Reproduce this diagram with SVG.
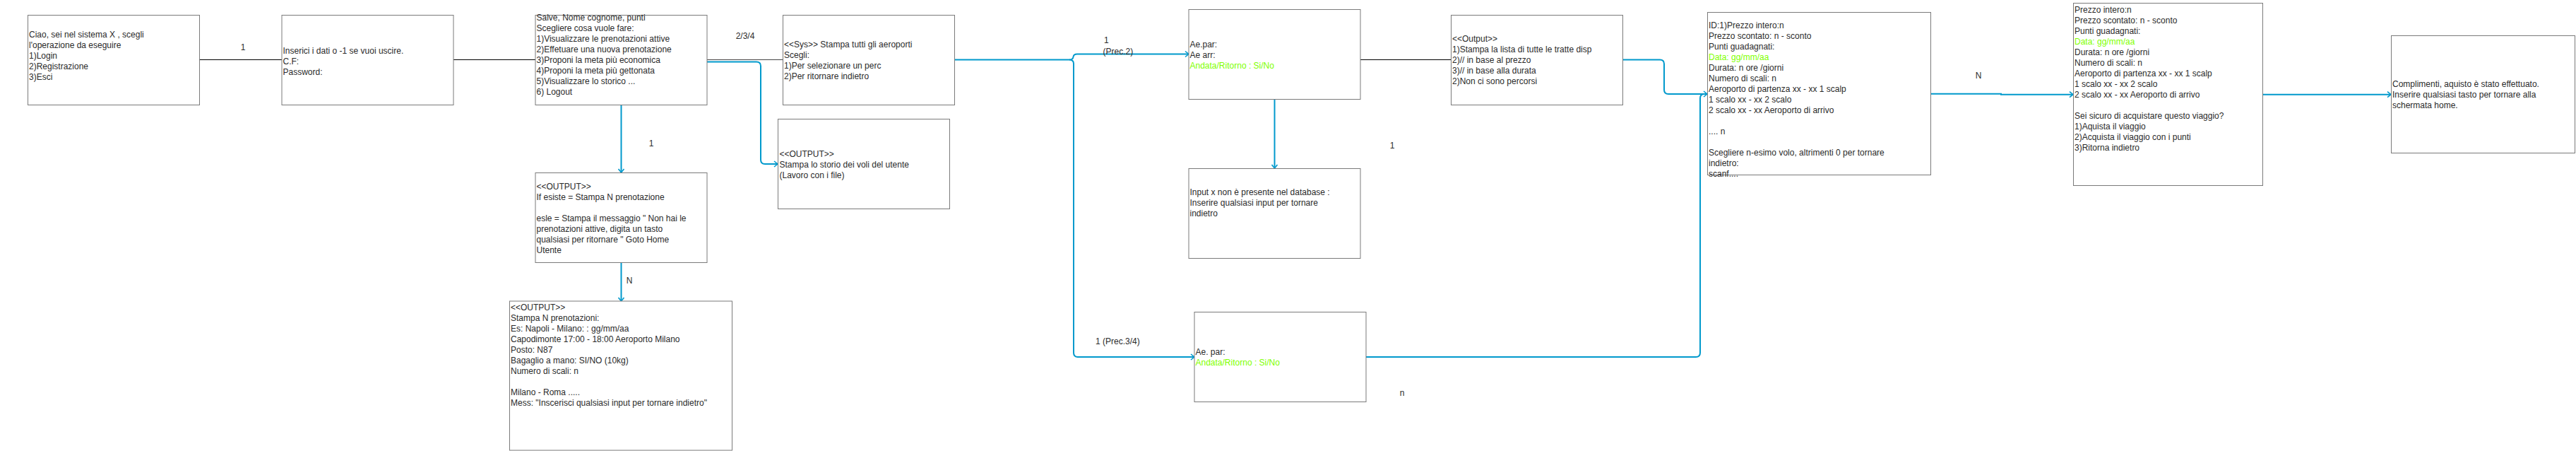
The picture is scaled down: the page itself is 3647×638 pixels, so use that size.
<svg xmlns="http://www.w3.org/2000/svg" width="3647" height="638" viewBox="0 0 3647 638">
<style>
.box{fill:#ffffff;stroke:#7a7a7a;stroke-width:1}
.t{font-family:"Liberation Sans",Arial,sans-serif;font-size:12px;fill:#2a2a2a}
.g{fill:#80FF00}
.lbl{font-family:"Liberation Sans",Arial,sans-serif;font-size:12px;fill:#2a2a2a}
.blk{fill:none;stroke:#000000;stroke-width:1}
.gry{fill:none;stroke:#444444;stroke-width:1}
.blu{fill:none;stroke:#0099CC;stroke-width:2}
</style>
<defs>
<marker id="arr" markerUnits="userSpaceOnUse" markerWidth="8" markerHeight="10" refX="6" refY="5" orient="auto" overflow="visible">
<path d="M1,1 L6,5 L1,9" fill="none" stroke="#0099CC" stroke-width="1.6"/>
</marker>
</defs>
<rect width="3647" height="638" fill="#ffffff"/>

<g id="connectors">
<path class="blk" d="M282,84.5 H399"/>
<path class="blk" d="M642,84.5 H758"/>
<path class="gry" d="M1001,84.5 H1108"/>
<path class="blu" d="M1001,87.5 H1071 Q1077,87.5 1077,93.5 V226 Q1077,232 1083,232 H1101" marker-end="url(#arr)"/>
<path class="blu" d="M879.5,148 V244" marker-end="url(#arr)"/>
<path class="blu" d="M879.5,371 V426" marker-end="url(#arr)"/>
<path class="blu" d="M1351,84.5 H1514 Q1519,84.5 1519.5,80.5 Q1520,76.5 1525,76.5 H1683" marker-end="url(#arr)"/>
<path class="blu" d="M1514,84.5 Q1520,84.5 1520,90 V499 Q1520,505 1526,505 H1691" marker-end="url(#arr)"/>
<path class="blu" d="M1804.5,140 V238" marker-end="url(#arr)"/>
<path class="blk" d="M1926,84.5 H2054"/>
<path class="blu" d="M2297,84.5 H2350 Q2356,84.5 2356,90.5 V127 Q2356,133 2362,133 H2417" marker-end="url(#arr)"/>
<path class="blu" d="M1934,505 H2401 Q2407,505 2407,499 V139 Q2407,133 2413,133"/>
<path class="blu" d="M2733,132.7 H2833 V133.7 H2935" marker-end="url(#arr)"/>
<path class="blu" d="M3203,133.7 H3385" marker-end="url(#arr)"/>
<text class="lbl" x="344" y="71" text-anchor="middle">1</text>
<text class="lbl" x="1055" y="54.7" text-anchor="middle">2/3/4</text>
<text class="lbl" x="922" y="207.3" text-anchor="middle">1</text>
<text class="lbl" x="891" y="400.7" text-anchor="middle">N</text>
<text class="lbl" x="1563" y="60.7">1</text>
<text class="lbl" x="1561.5" y="76.7">(Prec.2)</text>
<text class="lbl" x="1551" y="486.7">1 (Prec.3/4)</text>
<text class="lbl" x="1971" y="210" text-anchor="middle">1</text>
<text class="lbl" x="1985" y="560" text-anchor="middle">n</text>
<text class="lbl" x="2801" y="111.3" text-anchor="middle">N</text>
</g>

<g id="n1">
<rect class="box" x="39.5" y="21.5" width="243" height="127"/>
<text class="t"><tspan x="41" y="52.5">Ciao, sei nel sistema X , scegli</tspan><tspan x="41" y="67.5">l'operazione da eseguire</tspan><tspan x="41" y="82.5">1)Login</tspan><tspan x="41" y="97.5">2)Registrazione</tspan><tspan x="41" y="112.5">3)Esci</tspan></text>
</g>

<g id="n2">
<rect class="box" x="399" y="21.5" width="243" height="127"/>
<text class="t"><tspan x="400.5" y="75.7">Inserici i dati o -1 se vuoi uscire.</tspan><tspan x="400.5" y="90.7">C.F:</tspan><tspan x="400.5" y="105.7">Password:</tspan></text>
</g>

<g id="n3">
<rect class="box" x="758" y="21.5" width="243" height="127"/>
<text class="t"><tspan x="759.5" y="28.5">Salve, Nome cognome, punti</tspan><tspan x="759.5" y="43.5">Scegliere cosa vuole fare:</tspan><tspan x="759.5" y="58.5">1)Visualizzare le prenotazioni attive</tspan><tspan x="759.5" y="73.5">2)Effetuare una nuova prenotazione</tspan><tspan x="759.5" y="88.5">3)Proponi la meta più economica</tspan><tspan x="759.5" y="103.5">4)Proponi la meta più gettonata</tspan><tspan x="759.5" y="118.5">5)Visualizzare lo storico ...</tspan><tspan x="759.5" y="133.5">6) Logout</tspan></text>
</g>

<g id="n4">
<rect class="box" x="1108.5" y="21.5" width="243" height="127"/>
<text class="t"><tspan x="1110" y="66.5">&lt;&lt;Sys&gt;&gt; Stampa tutti gli aeroporti</tspan><tspan x="1110" y="81.5">Scegli:</tspan><tspan x="1110" y="96.5">1)Per selezionare un perc</tspan><tspan x="1110" y="111.5">2)Per ritornare indietro</tspan></text>
</g>

<g id="n5">
<rect class="box" x="1101.5" y="168.5" width="243" height="127"/>
<text class="t"><tspan x="1103.5" y="221.7">&lt;&lt;OUTPUT&gt;&gt;</tspan><tspan x="1103.5" y="236.7">Stampa lo storio dei voli del utente</tspan><tspan x="1103.5" y="251.7">(Lavoro con i file)</tspan></text>
</g>

<g id="n6">
<rect class="box" x="758" y="244.5" width="243" height="127"/>
<text class="t"><tspan x="759.5" y="267.5">&lt;&lt;OUTPUT&gt;&gt;</tspan><tspan x="759.5" y="282.5">If esiste = Stampa N prenotazione</tspan><tspan x="759.5" y="312.5">esle = Stampa il messaggio  " Non hai le</tspan><tspan x="759.5" y="327.5">prenotazioni attive, digita un tasto</tspan><tspan x="759.5" y="342.5">qualsiasi per ritornare "  Goto Home</tspan><tspan x="759.5" y="357.5">Utente</tspan></text>
</g>

<g id="n7">
<rect class="box" x="721.5" y="426" width="315" height="211"/>
<text class="t"><tspan x="723" y="439">&lt;&lt;OUTPUT&gt;&gt;</tspan><tspan x="723" y="454">Stampa N prenotazioni:</tspan><tspan x="723" y="469">Es: Napoli - Milano: : gg/mm/aa</tspan><tspan x="723" y="484">Capodimonte 17:00 - 18:00 Aeroporto Milano</tspan><tspan x="723" y="499">Posto: N87</tspan><tspan x="723" y="514">Bagaglio a mano: SI/NO (10kg)</tspan><tspan x="723" y="529">Numero di scali: n</tspan><tspan x="723" y="559">Milano - Roma .....</tspan><tspan x="723" y="574">Mess: "Inscerisci qualsiasi input per tornare indietro"</tspan></text>
</g>

<g id="n8">
<rect class="box" x="1683" y="13.5" width="243" height="127"/>
<text class="t"><tspan x="1684.5" y="66.5">Ae.par:</tspan><tspan x="1684.5" y="81.5">Ae arr:</tspan><tspan x="1684.5" y="96.5" class="g">Andata/Ritorno : Si/No</tspan></text>
</g>

<g id="n9">
<rect class="box" x="1683" y="238.5" width="243" height="127"/>
<text class="t"><tspan x="1684.5" y="275.7">Input x non è presente nel database :</tspan><tspan x="1684.5" y="290.7">Inserire qualsiasi input per tornare</tspan><tspan x="1684.5" y="305.7">indietro</tspan></text>
</g>

<g id="n10">
<rect class="box" x="1691" y="441.5" width="243" height="127"/>
<text class="t"><tspan x="1692.5" y="501.7">Ae. par:</tspan><tspan x="1692.5" y="516.7" class="g">Andata/Ritorno : Si/No</tspan></text>
</g>

<g id="n11">
<rect class="box" x="2054.5" y="21.5" width="243" height="127"/>
<text class="t"><tspan x="2056" y="58.7">&lt;&lt;Output&gt;&gt;</tspan><tspan x="2056" y="73.7">1)Stampa la lista di tutte le tratte disp</tspan><tspan x="2056" y="88.7">2)// in base al prezzo</tspan><tspan x="2056" y="103.7">3)// in base alla durata</tspan><tspan x="2056" y="118.7">2)Non ci sono percorsi</tspan></text>
</g>

<g id="n12">
<rect class="box" x="2417.5" y="17.5" width="316" height="230"/>
<text class="t"><tspan x="2419" y="39.7">ID:1)Prezzo intero:n</tspan><tspan x="2419" y="54.7">Prezzo scontato: n - sconto</tspan><tspan x="2419" y="69.7">Punti guadagnati:</tspan><tspan x="2419" y="84.7" class="g">Data: gg/mm/aa</tspan><tspan x="2419" y="99.7">Durata: n ore /giorni</tspan><tspan x="2419" y="114.7">Numero di scali: n</tspan><tspan x="2419" y="129.7">Aeroporto di partenza xx  - xx 1 scalp</tspan><tspan x="2419" y="144.7">1 scalo xx -  xx 2 scalo</tspan><tspan x="2419" y="159.7">2 scalo xx - xx Aeroporto di arrivo</tspan><tspan x="2419" y="189.7">.... n</tspan><tspan x="2419" y="219.5">Scegliere n-esimo volo, altrimenti 0 per tornare</tspan><tspan x="2419" y="234.5">indietro:</tspan><tspan x="2419" y="249.5">scanf....</tspan></text>
</g>

<g id="n13">
<rect class="box" x="2935.5" y="4.5" width="268" height="258"/>
<text class="t"><tspan x="2937" y="17.7">Prezzo intero:n</tspan><tspan x="2937" y="32.7">Prezzo scontato: n - sconto</tspan><tspan x="2937" y="47.7">Punti guadagnati:</tspan><tspan x="2937" y="62.7" class="g">Data: gg/mm/aa</tspan><tspan x="2937" y="77.7">Durata: n ore /giorni</tspan><tspan x="2937" y="92.7">Numero di scali: n</tspan><tspan x="2937" y="107.7">Aeroporto di partenza xx  - xx 1 scalp</tspan><tspan x="2937" y="122.7">1 scalo xx -  xx 2 scalo</tspan><tspan x="2937" y="137.7">2 scalo xx - xx Aeroporto di arrivo</tspan><tspan x="2937" y="167.7">Sei sicuro di acquistare questo viaggio?</tspan><tspan x="2937" y="182.7">1)Aquista il viaggio</tspan><tspan x="2937" y="197.7">2)Acquista il viaggio con i punti</tspan><tspan x="2937" y="212.7">3)Ritorna indietro</tspan></text>
</g>

<g id="n14">
<rect class="box" x="3385.5" y="50.5" width="260" height="166"/>
<text class="t"><tspan x="3387" y="123.3">Complimenti, aquisto è stato effettuato.</tspan><tspan x="3387" y="138.3">Inserire qualsiasi tasto per tornare alla</tspan><tspan x="3387" y="153.3">schermata home.</tspan></text>
</g>
</svg>
